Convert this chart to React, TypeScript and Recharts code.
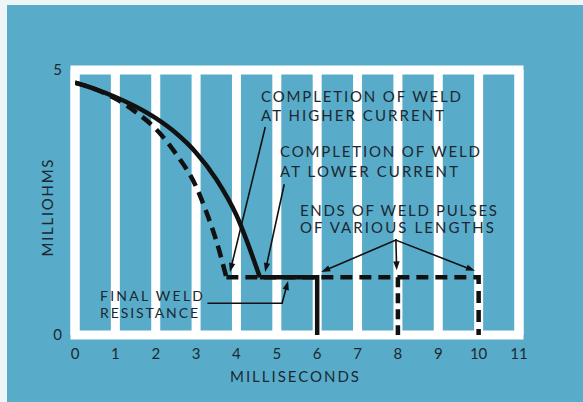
import {
  LineChart,
  Line,
  XAxis,
  YAxis,
  CartesianGrid,
  ReferenceArea,
  ReferenceLine,
} from 'recharts'

const xTicks = [0, 1, 2, 3, 4, 5, 6, 7, 8, 9, 10, 11]
const yTicks = [0, 5]

// lower current weld (solid) and higher current weld (dashed)
const solidCurveX = [0, 0.5, 1, 1.5, 2, 2.5, 3, 3.5, 4, 4.58]
const solidCurveY = [4.76, 4.64, 4.49, 4.31, 4.09, 3.81, 3.44, 2.94, 2.26, 1.09]
const dashedCurveX = [0, 0.5, 1, 1.5, 2, 2.5, 3, 3.25, 3.5, 3.75]
const dashedCurveY = [4.76, 4.64, 4.46, 4.21, 3.89, 3.42, 2.8, 2.33, 1.78, 1.09]

const finalResistance = 1.09
const solidPulseEnd = 6
const dashedPulseEnds = [8, 10]

// annotation pointers, [x, y] in chart units
const pointers = [
  { from: [4.71, 3.91], to: [3.84, 1.19], head: true },
  { from: [5.18, 2.83], to: [4.71, 1.19], head: true },
  { from: [7.95, 1.79], to: [6.1, 1.19], head: true },
  { from: [7.95, 1.79], to: [7.97, 1.22], head: true },
  { from: [7.95, 1.79], to: [9.91, 1.21], head: true },
  { from: [3.3, 0.6], to: [5.13, 0.6], head: false },
  { from: [5.13, 0.6], to: [5.28, 1.02], head: true },
]

const BLUE = '#58acc9'
const INK = '#1c2831'
const FONT = 'Lato, "Noto Sans", sans-serif'

const toPoints = (xs: number[], ys: number[]) => xs.map((x, i) => ({ x, y: ys[i] }))

const solidCurve = toPoints(solidCurveX, solidCurveY)
const dashedCurve = toPoints(dashedCurveX, dashedCurveY)
const solidStep = [
  { x: solidCurveX[solidCurveX.length - 1], y: finalResistance },
  { x: solidPulseEnd, y: finalResistance },
  { x: solidPulseEnd, y: 0 },
]
const lastEnd = dashedPulseEnds[dashedPulseEnds.length - 1]
const dashedStep = [
  { x: dashedCurveX[dashedCurveX.length - 1], y: finalResistance },
  { x: lastEnd, y: finalResistance },
  { x: lastEnd, y: 0 },
]
const dashedDrops = dashedPulseEnds.slice(0, -1).map((e) => [
  { x: e, y: finalResistance },
  { x: e, y: 0 },
])

const arrowShape = (head: boolean) => (p: any) => {
  const { x1, y1, x2, y2 } = p
  const a = Math.atan2(y2 - y1, x2 - x1)
  const len = 9
  const w = 3.2
  const bx = x2 - len * Math.cos(a)
  const by = y2 - len * Math.sin(a)
  const pts = `${x2},${y2} ${bx + w * Math.sin(a)},${by - w * Math.cos(a)} ${bx - w * Math.sin(a)},${by + w * Math.cos(a)}`
  return (
    <g>
      <line
        x1={x1}
        y1={y1}
        x2={head ? bx : x2}
        y2={head ? by : y2}
        stroke="#111"
        strokeWidth={1.6}
        strokeLinecap="square"
      />
      {head && <polygon points={pts} fill="#111" />}
    </g>
  )
}

const Note = ({
  x,
  y,
  w,
  size = 15,
  children,
}: {
  x: number
  y: number
  w: number
  size?: number
  children: string
}) => (
  <text
    x={x}
    y={y}
    textLength={w}
    lengthAdjust="spacing"
    fontFamily={FONT}
    fontSize={size}
    fill={INK}
  >
    {children}
  </text>
)

const lineStyle = {
  dot: false,
  activeDot: false,
  isAnimationActive: false,
  strokeLinejoin: 'miter' as const,
  strokeLinecap: 'butt' as const,
  stroke: '#111',
  strokeWidth: 4.5,
}

export default function App() {
  return (
    <div
      style={{
        position: 'fixed',
        left: 0,
        top: 0,
        width: 583,
        height: 402,
        background: '#eef5f7',
      }}
    >
      <div style={{ position: 'absolute', left: 7, top: 5, width: 576, height: 397, background: BLUE }}>
        <LineChart width={576} height={397} margin={{ top: 65, right: 64, left: 0, bottom: 37 }}>
          <CartesianGrid horizontal={false} stroke="#ffffff" strokeWidth={9} />
          <ReferenceArea
            x1={0}
            x2={11}
            y1={0}
            y2={5}
            fill="none"
            fillOpacity={0}
            stroke="#ffffff"
            strokeWidth={9}
            strokeOpacity={1}
          />
          <XAxis
            type="number"
            dataKey="x"
            domain={[0, 11]}
            ticks={xTicks}
            allowDataOverflow
            axisLine={false}
            tickLine={false}
            tickSize={0}
            tickMargin={13}
            height={30}
            tick={{ fontSize: 15, fill: INK, fontFamily: FONT }}
          />
          <YAxis
            type="number"
            dataKey="y"
            domain={[0, 5]}
            ticks={yTicks}
            allowDataOverflow
            axisLine={false}
            tickLine={false}
            tickSize={0}
            tickMargin={13}
            width={68}
            tick={{ fontSize: 15, fill: INK, fontFamily: FONT }}
          />

          <Line data={dashedCurve} dataKey="y" type="monotone" strokeDasharray="12 7" {...lineStyle} />
          <Line data={dashedStep} dataKey="y" type="linear" strokeDasharray="12 7" {...lineStyle} />
          {dashedDrops.map((d, i) => (
            <Line key={i} data={d} dataKey="y" type="linear" strokeDasharray="10 6" {...lineStyle} />
          ))}
          <Line data={solidCurve} dataKey="y" type="monotone" {...lineStyle} />
          <Line data={solidStep} dataKey="y" type="linear" {...lineStyle} />

          {pointers.map((s, i) => (
            <ReferenceLine
              key={i}
              segment={[
                { x: s.from[0], y: s.from[1] },
                { x: s.to[0], y: s.to[1] },
              ]}
              ifOverflow="visible"
              shape={arrowShape(s.head)}
            />
          ))}

          <Note x={254} y={97} w={200}>COMPLETION OF WELD</Note>
          <Note x={254} y={116} w={183}>AT HIGHER CURRENT</Note>
          <Note x={273} y={152} w={200}>COMPLETION OF WELD</Note>
          <Note x={273} y={172} w={178}>AT LOWER CURRENT</Note>
          <Note x={293} y={211} w={197}>ENDS OF WELD PULSES</Note>
          <Note x={293} y={228} w={194}>OF VARIOUS LENGTHS</Note>
          <Note x={93} y={296} w={103} size={14}>FINAL WELD</Note>
          <Note x={93} y={313} w={98} size={14}>RESISTANCE</Note>
          <Note x={223} y={377} w={129}>MILLISECONDS</Note>
          <text
            x={46}
            y={203}
            textAnchor="middle"
            transform="rotate(-90, 46, 203)"
            textLength={97}
            lengthAdjust="spacing"
            fontFamily={FONT}
            fontSize={15}
            fill={INK}
          >
            MILLIOHMS
          </text>
        </LineChart>
      </div>
    </div>
  )
}
